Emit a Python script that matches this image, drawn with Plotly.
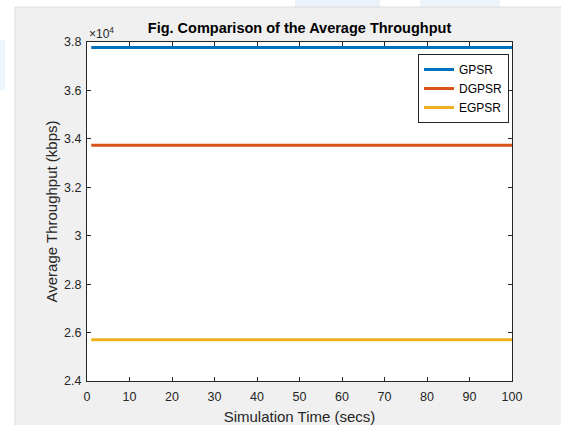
import plotly.graph_objects as go

sim_time = [1, 100]
gpsr = [37770, 37770]
dgpsr = [33740, 33740]
egpsr = [25700, 25700]

series_names = ["GPSR", "DGPSR", "EGPSR"]
series_colors = ["#0072BD", "#D95319", "#EDB120"]

x_ticks = [0, 10, 20, 30, 40, 50, 60, 70, 80, 90, 100]
y_ticks = [24000, 26000, 28000, 30000, 32000, 34000, 36000, 38000]
y_tick_text = ["2.4", "2.6", "2.8", "3", "3.2", "3.4", "3.6", "3.8"]

fig = go.Figure()
for name, vals, col in zip(series_names, [gpsr, dgpsr, egpsr], series_colors):
    fig.add_trace(go.Scatter(x=sim_time, y=vals, mode="lines", name=name,
                             line=dict(color=col, width=3)))

W, H = 561, 425
L, R, T, B = 87, 49, 42, 44
pw, ph = W - L - R, H - T - B

def px2x(px):
    return (px - L) / pw

def px2y(py):
    return (H - B - py) / ph

FONT = "Liberation Sans, Arial, sans-serif"

shapes = [
    dict(type="rect", xref="paper", yref="paper", x0=px2x(0), x1=px2x(W), y0=px2y(7), y1=px2y(0),
         fillcolor="white", line=dict(width=0), layer="below"),
    dict(type="rect", xref="paper", yref="paper", x0=px2x(0), x1=px2x(15), y0=px2y(H), y1=px2y(0),
         fillcolor="white", line=dict(width=0), layer="below"),
    dict(type="rect", xref="paper", yref="paper", x0=px2x(295), x1=px2x(380), y0=px2y(7), y1=px2y(0),
         fillcolor="#eaf2fb", line=dict(width=0), layer="below"),
    dict(type="rect", xref="paper", yref="paper", x0=px2x(420), x1=px2x(500), y0=px2y(7), y1=px2y(0),
         fillcolor="#eef5fc", line=dict(width=0), layer="below"),
    dict(type="rect", xref="paper", yref="paper", x0=px2x(0), x1=px2x(5), y0=px2y(90), y1=px2y(40),
         fillcolor="#ecf8fd", line=dict(width=0), layer="below"),
    dict(type="line", xref="paper", yref="paper", x0=px2x(15), x1=px2x(W), y0=px2y(7), y1=px2y(7),
         line=dict(color="#dcdcdc", width=1), layer="below"),
    dict(type="line", xref="paper", yref="paper", x0=px2x(15), x1=px2x(15), y0=px2y(7), y1=px2y(H),
         line=dict(color="#dcdcdc", width=1), layer="below"),
]

tick_font = dict(family=FONT, size=12.5, color="#262626")
title_font = dict(family=FONT, size=15, color="#262626")

fig.update_layout(
    width=W, height=H,
    margin=dict(l=L, r=R, t=T, b=B),
    paper_bgcolor="#f0f0f0",
    plot_bgcolor="white",
    shapes=shapes,
    title=dict(text="<b>Fig. Comparison of the Average Throughput</b>",
               x=0.5, xref="paper", xanchor="center",
               y=1 - 28 / H, yref="container", yanchor="middle",
               font=dict(family=FONT, size=14.5, color="black")),
    xaxis=dict(range=[0, 100], tickvals=x_ticks, ticks="inside", ticklen=4, tickcolor="#262626",
               showline=True, linecolor="#262626", linewidth=1, mirror="ticks",
               showgrid=False, zeroline=False, tickfont=tick_font, automargin=False,
               ticklabelstandoff=4,
               title=dict(text="Simulation Time (secs)", font=title_font, standoff=8)),
    yaxis=dict(range=[24000, 38000], tickvals=y_ticks, ticktext=y_tick_text, ticks="inside", ticklen=4,
               tickcolor="#262626", showline=True, linecolor="#262626", linewidth=1, mirror="ticks",
               showgrid=False, zeroline=False, tickfont=tick_font, automargin=False,
               ticklabelstandoff=2,
               title=dict(text="Average Throughput (kbps)", font=title_font, standoff=2)),
    legend=dict(x=px2x(418), y=px2y(54), xanchor="left", yanchor="top",
                bgcolor="white", bordercolor="#262626", borderwidth=1,
                font=dict(family=FONT, size=12, color="black"),
                tracegroupgap=0, itemwidth=30),
    annotations=[dict(text="×10<sup>4</sup>", xref="paper", yref="paper", x=0, y=1,
                      xanchor="left", yanchor="bottom", showarrow=False, yshift=-1,
                      font=dict(family=FONT, size=12, color="#262626"))],
    showlegend=True,
)

fig.write_html("out.html", config={"displayModeBar": False},
               post_script="document.body.style.margin='0';")
